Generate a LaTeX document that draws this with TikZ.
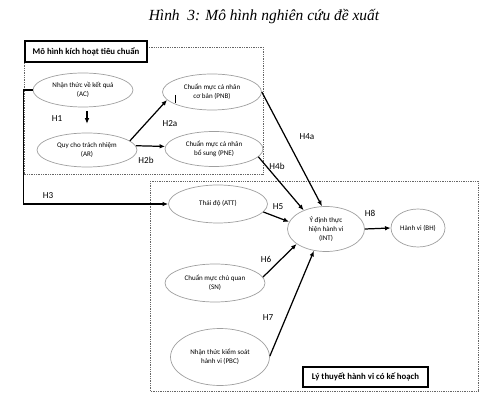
\documentclass[tikz,border=0pt]{standalone}
\usepackage{fontspec}
\setmainfont{Carlito}
\newfontfamily\titlefont{Liberation Serif}
\usetikzlibrary{shapes.geometric,arrows.meta}

\begin{document}
\begin{tikzpicture}[x=0.02cm,y=-0.02cm,
    ell/.style={ellipse,draw=gray!75,line width=0.4pt,inner sep=0pt,align=center,
      font=\fontsize{4}{4.9}\selectfont},
    arr/.style={line width=0.7pt,-{Latex[length=3.2pt,width=2.6pt]}},
    hyp/.style={font=\fontsize{5.2}{6}\selectfont},
    tag/.style={draw,fill=white,line width=0.7pt,font=\fontsize{5}{6}\selectfont\bfseries},
    frame/.style={gray!80!black,line width=0.4pt,dash pattern=on 0.5pt off 0.5pt}]
    \useasboundingbox (0,0) rectangle (499,401);
    \node (title) at (264,17) {\titlefont\itshape\fontsize{8.8}{10}\selectfont Hình\ \ 3: Mô hình nghiên cứu đề xuất};
    % dotted frames
    \draw[frame] (24,47) rectangle (263,174);
    \draw[frame] (150,181) rectangle (478,391);
    \node[tag,minimum width=2.44cm,minimum height=0.42cm] (normtag) at (86,51.5) {Mô hình kích hoạt tiêu chuẩn};
    \node[tag,minimum width=2.5cm,minimum height=0.4cm] (tpbtag) at (365.5,377) {Lý thuyết hành vi có kế hoạch};
    % constructs
    \node[ell,minimum width=2cm,minimum height=0.68cm] (AC) at (83,90) {Nhận thức về kết quả\\(AC)};
    \node[ell,minimum width=1.98cm,minimum height=0.72cm] (PNB) at (212,92) {Chuẩn mực cá nhân\\cơ bản (PNB)};
    \node[ell,minimum width=2cm,minimum height=0.68cm] (AR) at (87,150) {Quy cho trách nhiệm\\(AR)};
    \node[ell,minimum width=1.96cm,minimum height=0.7cm] (PNE) at (214,149) {Chuẩn mực cá nhân\\bổ sung (PNE)};
    \node[ell,minimum width=1.98cm,minimum height=0.76cm] (ATT) at (218,204) {Thái độ (ATT)};
    \node[ell,minimum width=1.54cm,minimum height=0.9cm] (INT) at (326,229) {Ý định thực\\hiện hành vi\\(INT)};
    \node[ell,minimum width=1.08cm,minimum height=0.76cm] (BH) at (418,228) {Hành vi (BH)};
    \node[ell,minimum width=2cm,minimum height=0.76cm] (SN) at (215,283) {Chuẩn mực chủ quan\\(SN)};
    \node[ell,minimum width=1.98cm,minimum height=1.14cm] (PBC) at (220,357) {Nhận thức kiểm soát\\hành vi (PBC)};
    % paths
    \draw[arr,shorten <=2.3pt,shorten >=5pt] (AC.south -| AR.north) -- (AR.north);
    \draw[arr] (AR.12) -- (PNB.190);
    \draw[arr] (AR.5) -- (PNE.177);
    \draw[arr] (PNB.east) -- (INT.100);
    \draw[arr] (PNE.350) -- (INT.140);
    \draw[arr] (AC.west) -- ++(-9,0) |- (ATT.west);
    \draw[arr] (ATT.350) -- (INT.169);
    \draw[arr] (INT.east) -- (BH.west);
    \draw[arr] (SN.7) -- (INT.207);
    \draw[arr] (PBC.1) -- (INT.241);
    \draw[line width=0.4pt] (175,95) -- (175,103);
    % hypotheses
    \node[hyp] (h1) at (57,119) {H1};
    \node[hyp] (h2a) at (170,124) {H2a};
    \node[hyp] (h2b) at (146,160) {H2b};
    \node[hyp] (h3) at (48,196) {H3};
    \node[hyp] (h4a) at (307,137) {H4a};
    \node[hyp] (h4b) at (277,166) {H4b};
    \node[hyp] (h5) at (278,207) {H5};
    \node[hyp] (h6) at (266,259) {H6};
    \node[hyp] (h7) at (268,318) {H7};
    \node[hyp] (h8) at (370,213) {H8};
\end{tikzpicture}
\end{document}
